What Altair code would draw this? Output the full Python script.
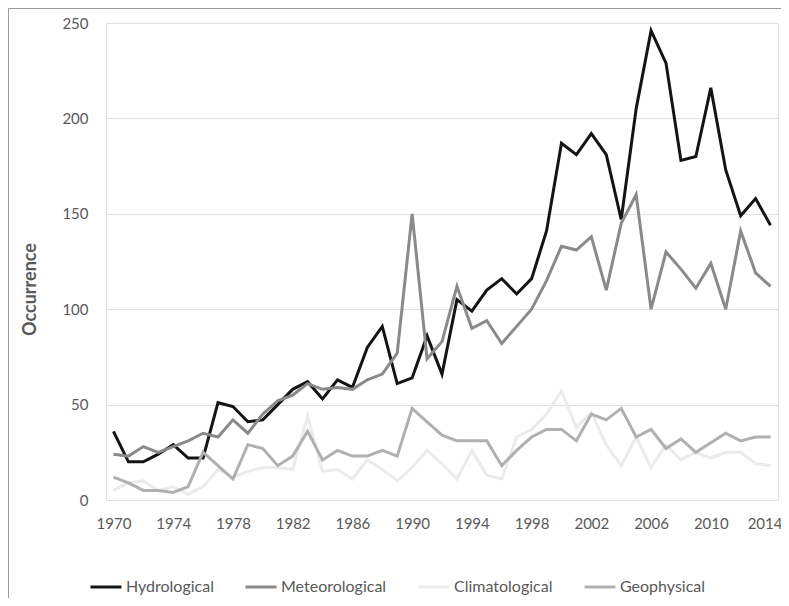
import altair as alt
import pandas as pd

years = list(range(1970, 2015))

hydrological = [36, 20, 20, 24, 29, 22, 22, 51, 49, 41, 42, 50, 58, 62, 53, 63, 59, 80, 91, 61,
                64, 86, 66, 105, 99, 110, 116, 108, 116, 141, 187, 181, 192, 181, 147, 205, 246, 229,
                178, 180, 216, 173, 149, 158, 144]
meteorological = [24, 23, 28, 25, 28, 31, 35, 33, 42, 35, 45, 52, 55, 61, 58, 59, 58, 63, 66, 77,
                   150, 74, 83, 112, 90, 94, 82, 91, 100, 115, 133, 131, 138, 110, 145, 160, 100, 130,
                   121, 111, 124, 100, 141, 119, 112]
climatological = [5, 9, 10, 5, 7, 3, 7, 16, 12, 15, 17, 17, 16, 44, 15, 16, 11, 21, 16, 10,
                  17, 26, 19, 11, 26, 13, 11, 33, 37, 45, 57, 38, 46, 29, 18, 33, 17, 29,
                  21, 25, 22, 25, 25, 19, 18]
geophysical = [12, 9, 5, 5, 4, 7, 25, 18, 11, 29, 27, 18, 23, 36, 21, 26, 23, 23, 26, 23,
               48, 41, 34, 31, 31, 31, 18, 26, 33, 37, 37, 31, 45, 42, 48, 33, 37, 27,
               32, 25, 30, 35, 31, 33, 33]

series_names = ["Hydrological", "Meteorological", "Climatological", "Geophysical"]
series_colors = ["#141414", "#8a8a8a", "#ebebeb", "#b0b0b0"]
series_widths = [3, 3, 4, 5]
x_ticks = list(range(1970, 2015, 4))
y_ticks = [0, 50, 100, 150, 200, 250]

rows = []
for name, vals in zip(series_names, [hydrological, meteorological, climatological, geophysical]):
    for y, v in zip(years, vals):
        rows.append({"year": y, "value": v, "series": name})
df = pd.DataFrame(rows)

FONT = "Lato"
W, H = 672, 477
PAD_R = 3
PAD_B = 98

lines = alt.Chart(df).mark_line(strokeJoin="miter", strokeCap="butt").encode(
    x=alt.X("year:Q",
            scale=alt.Scale(domain=[1969.5, 2014.5], nice=False, zero=False),
            axis=alt.Axis(values=x_ticks, format="d", title=None, grid=False, domain=False,
                          ticks=False, labelPadding=16, labelFontSize=15, labelColor="#595959",
                          labelFont=FONT,
                          labelOffset={"condition": {"test": "datum.value == 2014", "value": -6},
                                       "value": 0})),
    y=alt.Y("value:Q",
            scale=alt.Scale(domain=[0, 250], nice=False),
            axis=alt.Axis(values=y_ticks, title="Occurrence", grid=True, gridColor="#e0e0e0",
                          gridWidth=1, domain=False, ticks=False, labelPadding=18,
                          labelFontSize=15, labelColor="#595959", labelFont=FONT,
                          titleFont=FONT, titleFontSize=18, titleFontWeight="bold",
                          titleColor="#595959", titleAngle=270, titleX=-76, titleY=266,
                          titleAlign="center", titleBaseline="middle")),
    color=alt.Color("series:N",
                    scale=alt.Scale(domain=series_names, range=series_colors),
                    legend=alt.Legend(title=None, orient="none", direction="horizontal",
                                      columns=4, legendX=-17, legendY=547,
                                      symbolType="stroke", symbolSize=961,
                                      symbolStrokeWidth=3, labelFont=FONT, labelFontSize=16,
                                      labelColor="#595959", labelOffset=3, columnPadding=25,
                                      padding=0)),
    strokeWidth=alt.StrokeWidth("series:N",
                                scale=alt.Scale(domain=series_names, range=series_widths),
                                legend=None),
)

frame_v = alt.Chart(pd.DataFrame({"k": [0]})).mark_rule(color="#9a9a9a", strokeWidth=1).encode(
    x=alt.value(-97.5), y=alt.value(-14.5), y2=alt.value(H + PAD_B)
)
frame_h = alt.Chart(pd.DataFrame({"k": [0]})).mark_rule(color="#9a9a9a", strokeWidth=1).encode(
    x=alt.value(-97.5), x2=alt.value(W + PAD_R), y=alt.value(-14.5)
)

chart = alt.layer(lines, frame_v, frame_h).properties(
    width=W, height=H,
    autosize=alt.AutoSizeParams(type="none"),
    padding={"left": 98, "top": 15, "right": PAD_R, "bottom": PAD_B},
).configure_view(stroke=None).configure(background="white")

chart.save("out.html", embed_options={"renderer": "svg", "actions": False})
